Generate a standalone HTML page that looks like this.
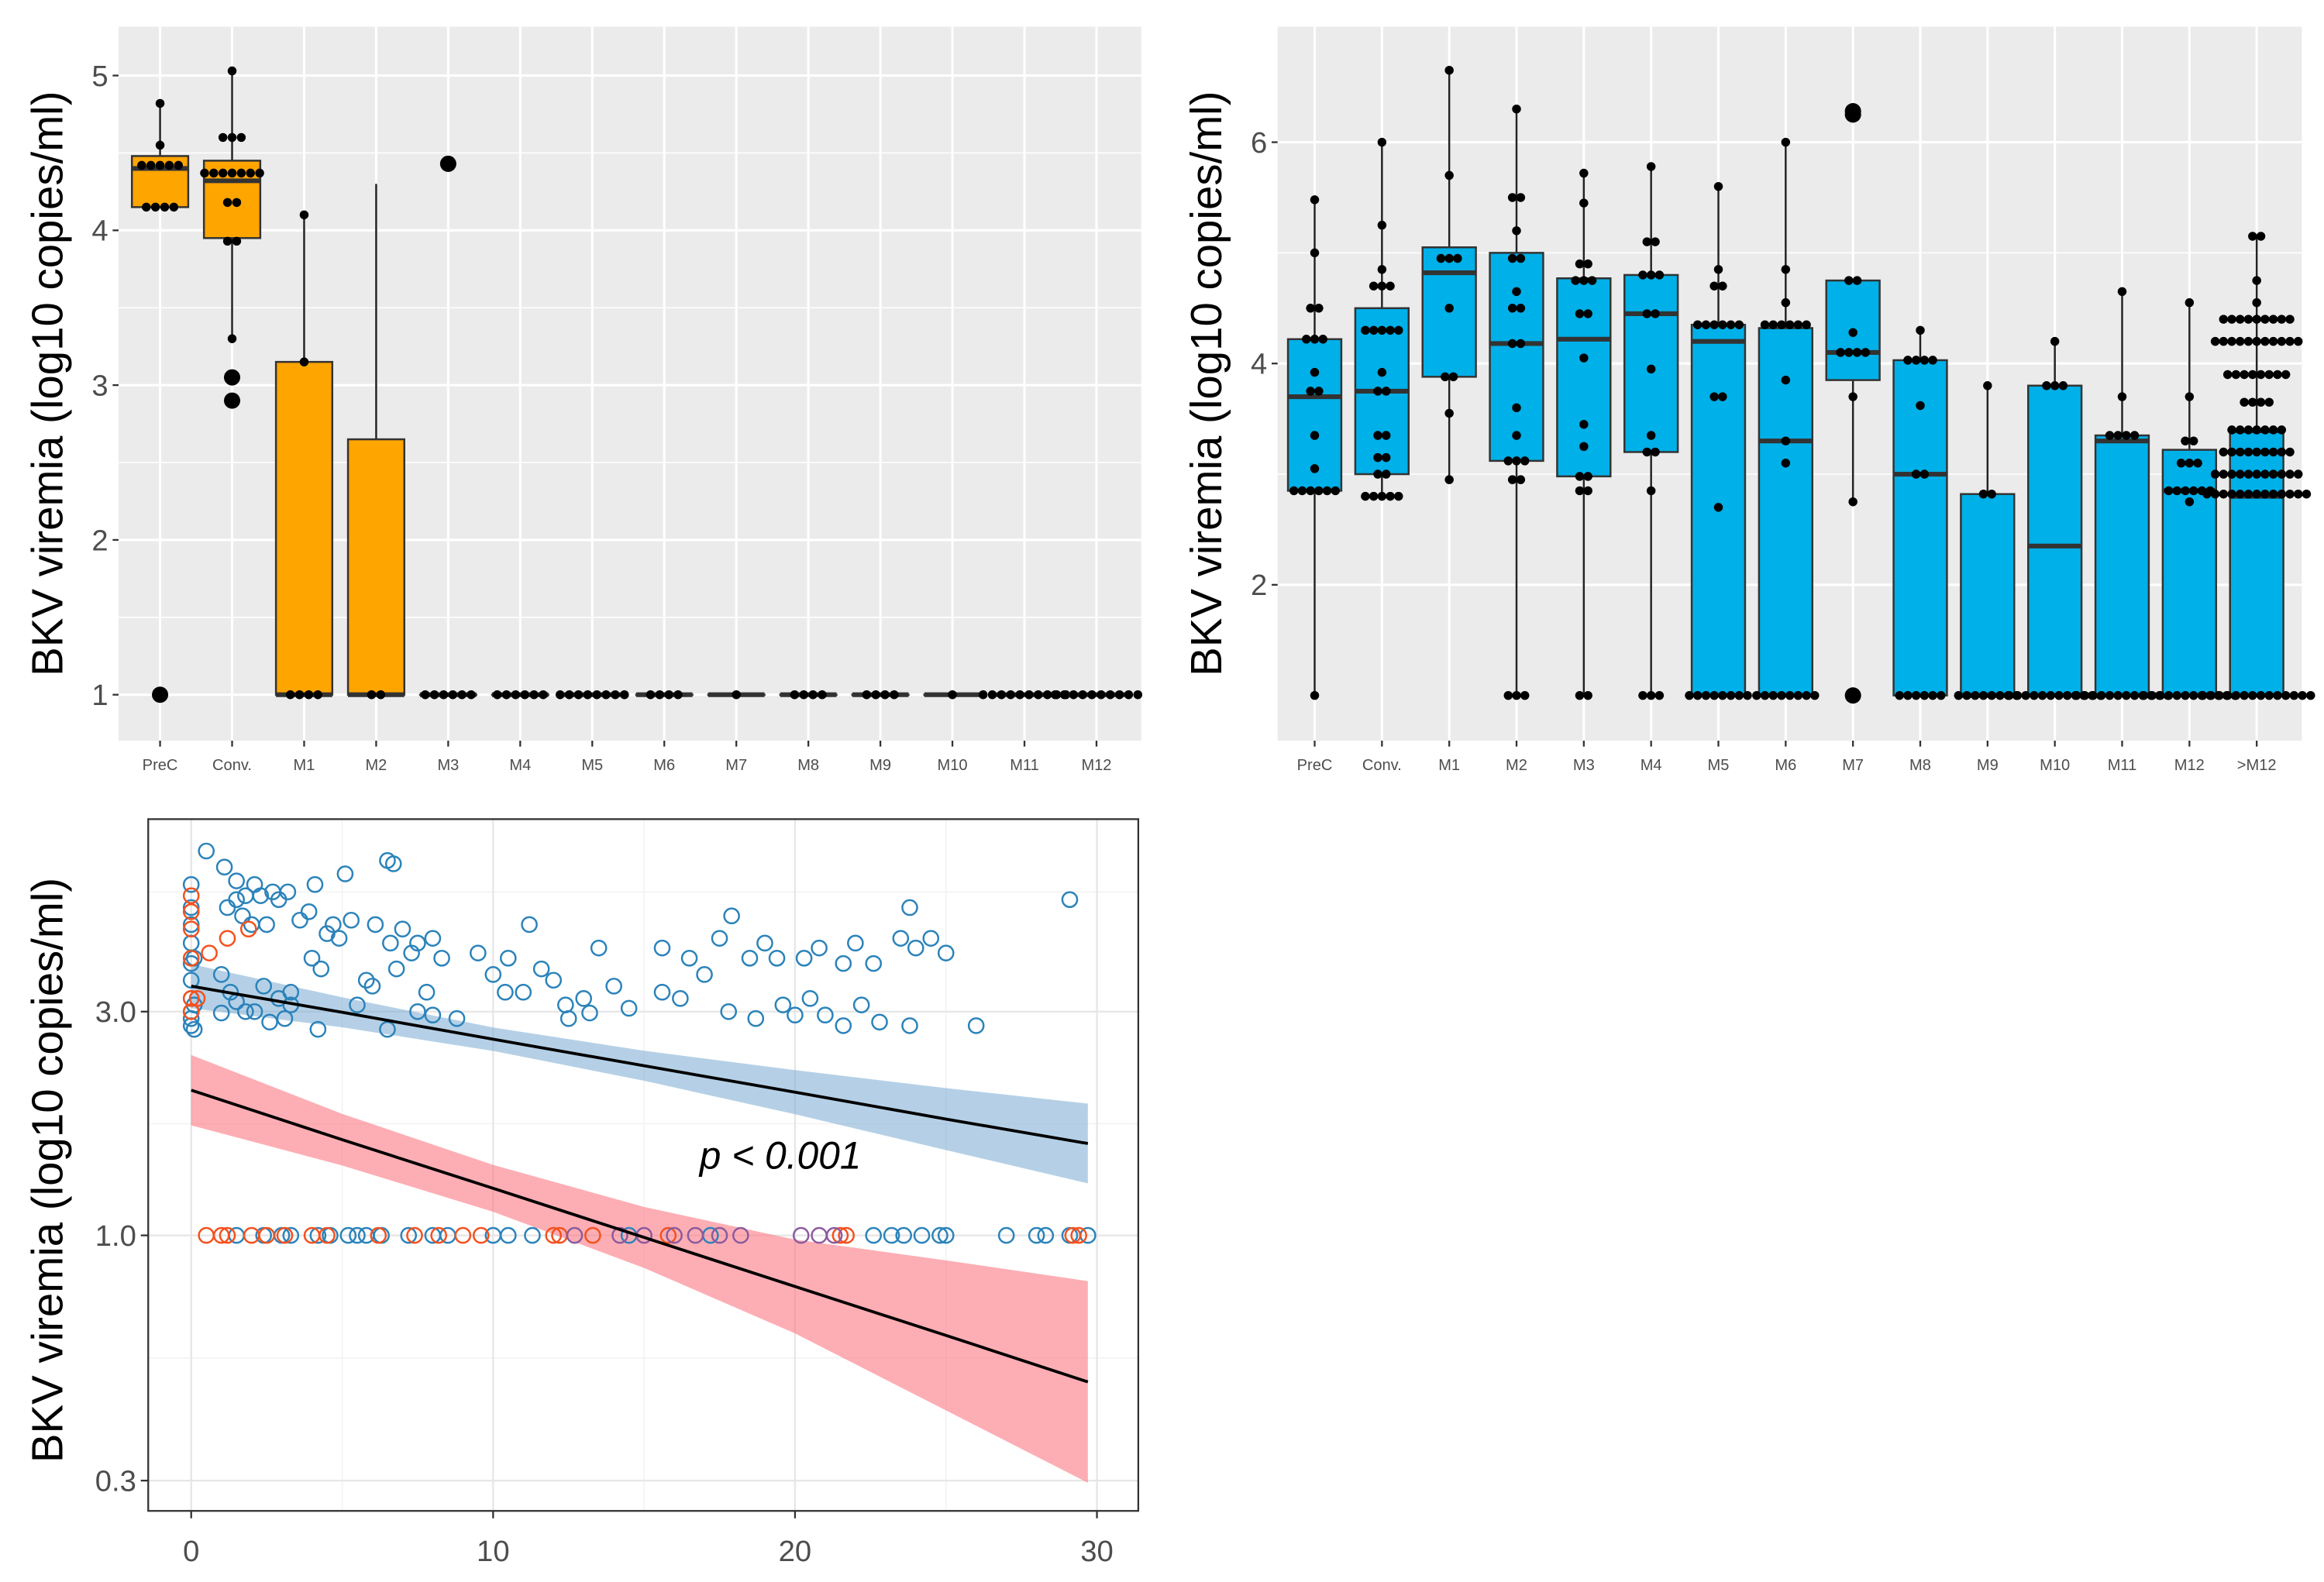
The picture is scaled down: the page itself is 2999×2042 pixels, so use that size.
<!DOCTYPE html>
<html><head><meta charset="utf-8"><style>
html,body{margin:0;padding:0;background:#fff;}
svg{display:block;font-family:"Liberation Sans",Arial,sans-serif;}
</style></head><body>
<svg id="fig" xmlns="http://www.w3.org/2000/svg" width="2999" height="2042" viewBox="0 0 1568 1068" preserveAspectRatio="none"></svg>
<script>
function rep(v,n){var a=[];for(var i=0;i<n;i++)a.push(v);return a;}
// ---------- Panel 1 data ----------
var p1Cats=['PreC','Conv.','M1','M2','M3','M4','M5','M6','M7','M8','M9','M10','M11','M12'];
var p1Q1=[4.15,3.95,1,1,1,1,1,1,1,1,1,1,1,1];
var p1Med=[4.4,4.32,1,1,1,1,1,1,1,1,1,1,1,1];
var p1Q3=[4.48,4.45,3.15,2.65,1,1,1,1,1,1,1,1,1,1];
var p1Lo=[4.15,3.3,1,1,1,1,1,1,1,1,1,1,1,1];
var p1Hi=[4.82,5.03,4.1,4.3,1,1,1,1,1,1,1,1,1,1];
var p1Out=[[1],[3.05,2.9],[],[],[4.43],[],[],[],[],[],[],[],[],[]];
var p1Pts=[[4.82,4.55].concat(rep(4.42,5),rep(4.15,4)),
 [5.03].concat(rep(4.6,3),rep(4.37,7),rep(4.18,2),rep(3.93,2),[3.3]),
 [4.1,3.15].concat(rep(1,4)),rep(1,2),rep(1,6),rep(1,6),rep(1,8),rep(1,4),rep(1,1),rep(1,4),rep(1,4),rep(1,1),rep(1,10),rep(1,10)];
var p1Ticks=[1,2,3,4,5];
// ---------- Panel 2 data ----------
var p2Cats=['PreC','Conv.','M1','M2','M3','M4','M5','M6','M7','M8','M9','M10','M11','M12','>M12'];
var p2Q1=[2.85,3.0,3.88,3.12,2.98,3.2,1,1,3.85,1,1,1,1,1,1];
var p2Med=[3.7,3.75,4.82,4.18,4.22,4.45,4.2,3.3,4.1,3.0,1,2.35,3.3,2.85,2.8];
var p2Q3=[4.22,4.5,5.05,5.0,4.77,4.8,4.35,4.32,4.75,4.03,2.82,3.8,3.35,3.22,3.38];
var p2Lo=[1,2.8,2.95,1,1,1,1,1,2.75,1,1,1,1,1,1];
var p2Hi=[5.48,6.0,6.65,6.3,5.72,5.78,5.6,6.0,4.75,4.3,3.8,4.2,4.65,4.55,5.15];
var p2Out=[[],[],[],[],[],[],[],[],[6.25,6.28,1],[],[],[],[],[],[]];
var p2Pts=[
 [5.48,5.0,4.5,4.5,4.22,4.22,4.22,3.92,3.75,3.75,3.35,3.05].concat(rep(2.85,6),[1]),
 [6.0,5.25,4.85].concat(rep(4.7,3),rep(4.3,5),[3.92,3.75,3.75,3.35,3.35,3.15,3.15,3.0,3.0],rep(2.8,5)),
 [6.65,5.7,4.95,4.95,4.95,4.5,3.88,3.88,3.55,2.95],
 [6.3,5.5,5.5,5.2,4.95,4.95,4.65,4.5,4.5,4.18,4.18,3.6,3.35,3.12,3.12,3.12,2.95,2.95,1,1,1],
 [5.72,5.45,4.9,4.9,4.75,4.75,4.75,4.45,4.45,4.05,3.45,3.25,2.98,2.98,2.85,2.85,1,1],
 [5.78,5.1,5.1,4.8,4.8,4.8,4.45,4.45,3.95,3.35,3.2,3.2,2.85,1,1,1],
 [5.6,4.85,4.7,4.7].concat(rep(4.35,6),[3.7,3.7,2.7],rep(1,8)),
 [6.0,4.85,4.55].concat(rep(4.35,6),[3.85,3.3,3.1],rep(1,8)),
 [4.75,4.75,4.28].concat(rep(4.1,4),[3.7,2.75]),
 [4.3].concat(rep(4.03,4),[3.62,3.0,3.0],rep(1,6)),
 [3.8,2.82,2.82].concat(rep(1,8)),
 [4.2].concat(rep(3.8,3),rep(1,12)),
 [4.65,3.7].concat(rep(3.35,4),rep(1,12)),
 [4.55,3.7,3.3,3.3,3.1,3.1,3.1,2.75].concat(rep(2.85,6),rep(1,12)),
 [5.15,5.15,4.75,4.55].concat(rep(4.4,9),rep(4.2,11),rep(3.9,8),rep(3.65,4),rep(3.4,7),rep(3.2,9),rep(3.0,11),rep(2.82,13),rep(1,14))];
var p2Ticks=[2,4,6];
// ---------- Panel 3 data ----------
var blueX=[0,0,0,0,0,0,0,0,0,0,0.1,0.1,0.1,0.5,1.1,1.2,1.5,1.7,2,2.3,2.5,2.9,3.2,3.6,4.1,4.5,5.1,5.3,6.5,6.7,7.0,7.5,8,1,1.3,2.4,2.9,3.3,4,4.3,5.8,6.6,7.3,7.8,8.3,9.5,10,10.5,11.2,11.6,12,12.4,13,13.5,14,15.6,16.5,17,17.5,17.9,18.5,19,19.4,20.3,20.8,21.6,22,22.6,23.5,24,24.5,25,23.8,29.1,26,15.6,16.2,17.8,18.7,19.6,20,20.5,21,21.6,22.2,22.8,23.8,10.4,11,12.5,13.2,14.5,7.5,8,8.8,6.5,4.2,2.6,1.8,1.0,1.5,2.1,3.1,3.3,5.5,6.0,6.8,4.9,3.9,2.7,1.8,1.5,2.1,4.7,6.1];
var blueY=[2.8,2.9,3.0,3.2,3.5,3.8,4.2,4.6,5.0,5.6,2.75,3.1,3.9,6.6,6.1,5.0,5.2,4.8,4.6,5.3,4.6,5.2,5.4,4.7,5.6,4.4,5.9,4.7,6.3,6.2,4.5,4.2,4.3,3.6,3.3,3.4,3.2,3.1,3.9,3.7,3.5,4.2,4.0,3.3,3.9,4.0,3.6,3.9,4.6,3.7,3.5,3.1,3.2,4.1,3.4,4.1,3.9,3.6,4.3,4.8,3.9,4.2,3.9,3.9,4.1,3.8,4.2,3.8,4.3,4.1,4.3,4.0,5.0,5.2,2.8,3.3,3.2,3.0,2.9,3.1,2.95,3.2,2.95,2.8,3.1,2.85,2.8,3.3,3.3,2.9,2.98,3.05,3.0,2.95,2.9,2.75,2.75,2.85,3.0,2.98,3.15,3.0,2.9,3.3,3.1,3.4,3.7,4.3,4.9,5.4,5.3,5.7,5.6,4.6,4.6];
var redX=[0,0,0,0,0,0,0.2,0.6,1.2,1.9];
var redY=[5.3,4.9,4.5,3.9,3.2,3.0,3.2,4.0,4.3,4.5];
var blueZeroX=[1.5,2.4,3,3.3,4.2,4.6,5.2,5.5,5.8,6.3,7.2,8,8.5,10,10.5,11.3,14.5,17.2,22.6,23.2,23.6,24.2,24.8,25,27,28,28.3,29.1,29.7];
var redZeroX=[0.5,1,1.2,2,2.5,3.1,4,4.5,6.2,7.4,8.2,9,9.6,12,12.2,13.3,15.8,21.5,21.7,29.2,29.4];
var purpleZeroX=[12.7,14.2,15,16,16.7,17.5,18.2,20.2,20.8,21.3];
var fitX=[0,5,10,15,20,25,29.7];
var blueFit=[3.4,2.99,2.62,2.3,2.02,1.77,1.57];
var blueHalf=[0.047,0.032,0.025,0.032,0.047,0.066,0.085];
var redFit=[2.04,1.6,1.26,0.99,0.778,0.612,0.487];
var redHalf=[0.075,0.055,0.05,0.065,0.1,0.16,0.215];
var p3XTicks=[0,10,20,30];
var p3YTicks=[0.3,1.0,3.0];

var NS='http://www.w3.org/2000/svg';
var svg=document.getElementById('fig');
function mk(tag,attrs,parent){var e=document.createElementNS(NS,tag);for(var k in attrs)e.setAttribute(k,attrs[k]);(parent||svg).appendChild(e);return e;}

// ===== Panel 1 =====
var P1={x0:80,x1:770,y0:18,y1:500};
function p1x(i){return 108+i*48.6;}
function p1y(v){return 469-(v-1)*104.5;}
var g1=mk('g',{});


var bg1=mk('rect',{x:P1.x0,y:P1.y0,width:P1.x1-P1.x0,height:P1.y1-P1.y0,fill:'#ebebeb'},g1);


[1.5,2.5,3.5,4.5].forEach(function(v){var l=mk('line',{x1:P1.x0,x2:P1.x1,y1:p1y(v),y2:p1y(v),stroke:'#fff','stroke-width':0.8},g1);

});
p1Ticks.forEach(function(v){var l=mk('line',{x1:P1.x0,x2:P1.x1,y1:p1y(v),y2:p1y(v),stroke:'#fff','stroke-width':1.6},g1);


var t=mk('line',{x1:P1.x0-4,x2:P1.x0,y1:p1y(v),y2:p1y(v),stroke:'#333','stroke-width':1.2},g1);


var tx=mk('text',{x:P1.x0-7,y:p1y(v)+7,'text-anchor':'end','font-size':20,fill:'#4d4d4d'},g1);tx.textContent=v;

});
p1Cats.forEach(function(c,i){var x=p1x(i);
var l=mk('line',{x1:x,x2:x,y1:P1.y0,y2:P1.y1,stroke:'#fff','stroke-width':1.6},g1);


var t=mk('line',{x1:x,x2:x,y1:P1.y1,y2:P1.y1+4,stroke:'#333','stroke-width':1.2},g1);


var tx=mk('text',{x:x,y:P1.y1+20,'text-anchor':'middle','font-size':10.5,fill:'#4d4d4d'},g1);tx.textContent=c;

});
function drawBox(g,x,w,q1,med,q3,lo,hi,fy,fill){
 var wl=mk('line',{x1:x,x2:x,y1:fy(hi),y2:fy(lo),stroke:'#222','stroke-width':1.3},g);
 
 
 var r=mk('rect',{x:x-w/2,y:fy(q3),width:w,height:Math.max(fy(q1)-fy(q3),0.1),fill:fill,stroke:'#333','stroke-width':1.3},g);
 
 
 var m=mk('line',{x1:x-w/2,x2:x+w/2,y1:fy(med),y2:fy(med),stroke:'#333','stroke-width':3.2},g);
 
 
}
function drawDots(g,x,pts,fy,sp,r){
 var groups={};pts.forEach(function(v){groups[v]=(groups[v]||0)+1;});
 Object.keys(groups).forEach(function(k){var n=groups[k];var v=parseFloat(k);
  for(var j=0;j<n;j++){var dx=(j-(n-1)/2)*sp;
   var c=mk('circle',{cx:x+dx,cy:fy(v),r:r,fill:'#000'},g);
   
   }});
}
p1Cats.forEach(function(c,i){var x=p1x(i);
 drawBox(g1,x,38,p1Q1[i],p1Med[i],p1Q3[i],p1Lo[i],p1Hi[i],p1y,'#ffa500');
 p1Out[i].forEach(function(v){var o=mk('circle',{cx:x,cy:p1y(v),r:5.5,fill:'#000'},g1);
 
 });
 drawDots(g1,x,p1Pts[i],p1y,6.2,3);
});
var yt1=mk('text',{x:0,y:0,transform:'translate(42,259) rotate(-90)','text-anchor':'middle','font-size':29.5,fill:'#000'},g1);yt1.textContent='BKV viremia (log10 copies/ml)';



// ===== Panel 2 =====
var P2={x0:862,x1:1553,y0:18,y1:500};
function p2x(i){return 887+i*45.4;}
function p2y(v){return 469.5-(v-1)*74.7;}
var g2=mk('g',{});


var bg2=mk('rect',{x:P2.x0,y:P2.y0,width:P2.x1-P2.x0,height:P2.y1-P2.y0,fill:'#ebebeb'},g2);


[3,5].forEach(function(v){var l=mk('line',{x1:P2.x0,x2:P2.x1,y1:p2y(v),y2:p2y(v),stroke:'#fff','stroke-width':0.8},g2);

});
p2Ticks.forEach(function(v){var l=mk('line',{x1:P2.x0,x2:P2.x1,y1:p2y(v),y2:p2y(v),stroke:'#fff','stroke-width':1.6},g2);


var t=mk('line',{x1:P2.x0-4,x2:P2.x0,y1:p2y(v),y2:p2y(v),stroke:'#333','stroke-width':1.2},g2);


var tx=mk('text',{x:P2.x0-7,y:p2y(v)+7,'text-anchor':'end','font-size':20,fill:'#4d4d4d'},g2);tx.textContent=v;

});
p2Cats.forEach(function(c,i){var x=p2x(i);
var l=mk('line',{x1:x,x2:x,y1:P2.y0,y2:P2.y1,stroke:'#fff','stroke-width':1.6},g2);


var t=mk('line',{x1:x,x2:x,y1:P2.y1,y2:P2.y1+4,stroke:'#333','stroke-width':1.2},g2);


var tx=mk('text',{x:x,y:P2.y1+20,'text-anchor':'middle','font-size':10.5,fill:'#4d4d4d'},g2);tx.textContent=c;

});
p2Cats.forEach(function(c,i){var x=p2x(i);
 drawBox(g2,x,36,p2Q1[i],p2Med[i],p2Q3[i],p2Lo[i],p2Hi[i],p2y,'#00b0e8');
 p2Out[i].forEach(function(v){var o=mk('circle',{cx:x,cy:p2y(v),r:5.5,fill:'#000'},g2);
 
 });
 drawDots(g2,x,p2Pts[i],p2y,5.6,3);
});
var yt2=mk('text',{x:0,y:0,transform:'translate(824,259) rotate(-90)','text-anchor':'middle','font-size':29.5,fill:'#000'},g2);yt2.textContent='BKV viremia (log10 copies/ml)';



// ===== Panel 3 =====
var P3={x0:100,x1:768,y0:553,y1:1020};
function p3x(v){return 129+v*20.37;}
function p3y(v){return 834-Math.log10(v)*316.6;}
var g3=mk('g',{});


var bg3=mk('rect',{x:P3.x0,y:P3.y0,width:P3.x1-P3.x0,height:P3.y1-P3.y0,fill:'#fff'},g3);


[5,15,25].forEach(function(v){var l=mk('line',{x1:p3x(v),x2:p3x(v),y1:P3.y0,y2:P3.y1,stroke:'#f2f2f2','stroke-width':0.8},g3);

});
[5.4,1.73,0.548].forEach(function(v){var l=mk('line',{x1:P3.x0,x2:P3.x1,y1:p3y(v),y2:p3y(v),stroke:'#f2f2f2','stroke-width':0.8},g3);

});
p3XTicks.forEach(function(v){var l=mk('line',{x1:p3x(v),x2:p3x(v),y1:P3.y0,y2:P3.y1,stroke:'#e6e6e6','stroke-width':1.2},g3);


var t=mk('line',{x1:p3x(v),x2:p3x(v),y1:P3.y1,y2:P3.y1+5,stroke:'#333','stroke-width':1.2},g3);


var tx=mk('text',{x:p3x(v),y:P3.y1+34,'text-anchor':'middle','font-size':20,fill:'#4d4d4d'},g3);tx.textContent=v;

});
p3YTicks.forEach(function(v){var l=mk('line',{x1:P3.x0,x2:P3.x1,y1:p3y(v),y2:p3y(v),stroke:'#e6e6e6','stroke-width':1.2},g3);


var t=mk('line',{x1:P3.x0-5,x2:P3.x0,y1:p3y(v),y2:p3y(v),stroke:'#333','stroke-width':1.2},g3);


var tx=mk('text',{x:P3.x0-8,y:p3y(v)+7,'text-anchor':'end','font-size':20,fill:'#4d4d4d'},g3);tx.textContent=v.toFixed(1);

});
function band(fit,half,color,name){
 var up=fitX.map(function(x,i){return p3x(x)+','+(p3y(fit[i])-half[i]*316.6);});
 var dn=fitX.map(function(x,i){return p3x(x)+','+(p3y(fit[i])+half[i]*316.6);}).reverse();
 var p=mk('polygon',{points:up.concat(dn).join(' '),fill:color},g3);
 
 
}
band(redFit,redHalf,'rgba(252,120,130,0.6)','confidence-band-red');
band(blueFit,blueHalf,'rgba(120,170,210,0.55)','confidence-band-blue');
function circ(x,v,col){var c=mk('circle',{cx:p3x(x),cy:p3y(v),r:5,fill:'none',stroke:col,'stroke-width':1.3},g3);
 
 }
blueX.forEach(function(x,i){circ(x,blueY[i],'#2b83ba');});
redX.forEach(function(x,i){circ(x,redY[i],'#f4511e');});
blueZeroX.forEach(function(x){circ(x,1,'#2b83ba');});
redZeroX.forEach(function(x){circ(x,1,'#f4511e');});
purpleZeroX.forEach(function(x){circ(x,1,'#8b5b9e');});
function fitLine(fit,name){var pts=fitX.map(function(x,i){return p3x(x)+','+p3y(fit[i]);}).join(' ');
 var l=mk('polyline',{points:pts,fill:'none',stroke:'#000','stroke-width':2},g3);
 
 }
fitLine(blueFit,'regression-line-blue');
fitLine(redFit,'regression-line-red');
var bd=mk('rect',{x:P3.x0,y:P3.y0,width:P3.x1-P3.x0,height:P3.y1-P3.y0,fill:'none',stroke:'#333','stroke-width':1.2},g3);


var pv=mk('text',{x:472,y:789,'font-size':26,'font-style':'italic',fill:'#000'},g3);pv.textContent='p < 0.001';


var yt3=mk('text',{x:0,y:0,transform:'translate(42,790) rotate(-90)','text-anchor':'middle','font-size':29.5,fill:'#000'},g3);yt3.textContent='BKV viremia (log10 copies/ml)';


</script>
</body></html>
